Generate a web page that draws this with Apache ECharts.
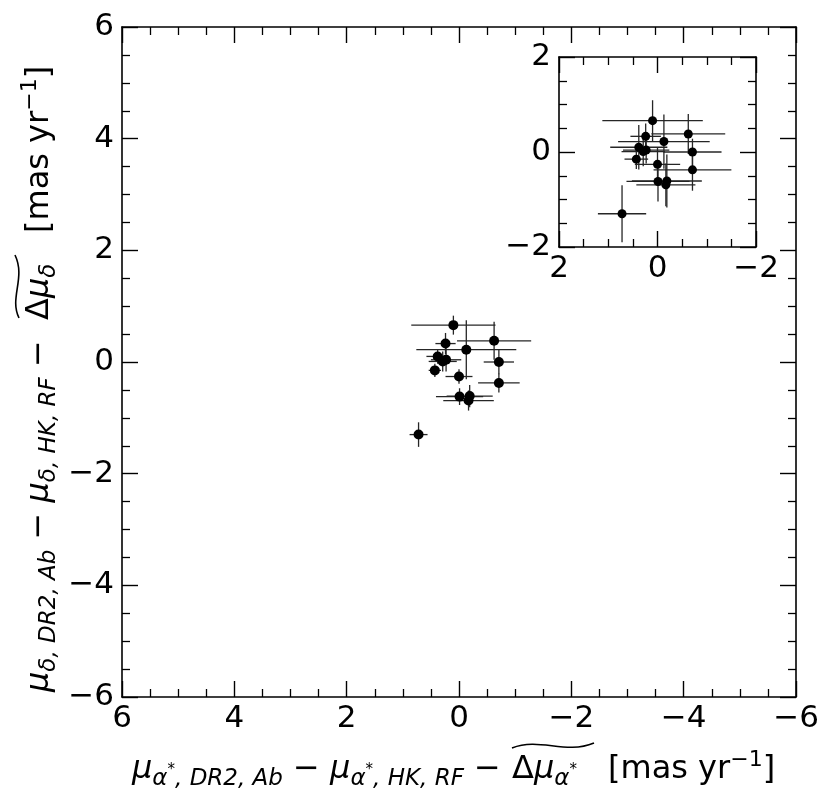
<!DOCTYPE html>
<html>
<head>
<meta charset="utf-8">
<script src="https://cdn.jsdelivr.net/npm/echarts@6/dist/echarts.min.js"></script>
<style>
  html, body { margin: 0; padding: 0; background: #fff; }
  #chart { width: 831px; height: 802px; }
</style>
</head>
<body>
<div id="chart"></div>
<script>
// proper motion differences (mas/yr)
var dRA  = [0.10, 0.24, -0.13, -0.625, 0.38, 0.23, 0.29, 0.43, -0.71, 0.00, -0.71, -0.01, -0.19, -0.17, 0.72];
var dDec = [0.66, 0.33, 0.22, 0.38, 0.10, 0.04, 0.01, -0.15, 0.00, -0.26, -0.375, -0.62, -0.61, -0.69, -1.30];

// error bars in the main panel
var errRA  = [0.75, 0.18, 0.89, 0.66, 0.20, 0.27, 0.25, 0.11, 0.27, 0.24, 0.37, 0.42, 0.41, 0.45, 0.16];
var errDec = [0.17, 0.19, 0.53, 0.34, 0.13, 0.21, 0.18, 0.12, 0.22, 0.13, 0.17, 0.15, 0.20, 0.18, 0.22];

// error bars drawn in the inset
var errRAInset  = [1.02, 0.31, 0.93, 0.75, 0.58, 0.47, 0.44, 0.24, 0.59, 0.46, 0.79, 0.64, 0.71, 0.60, 0.49];
var errDecInset = [0.43, 0.27, 0.57, 0.42, 0.47, 0.28, 0.31, 0.21, 0.28, 0.35, 0.44, 0.42, 0.56, 0.45, 0.60];

// axis ranges
var mainRange = [-6, 6];
var insetRange = [-2, 2];

var chart = echarts.init(document.getElementById('chart'));

var FONT = 'DejaVu Sans';

function tickFmt(v) {
    return v < 0 ? '\u2212' + (-v) : String(v);
}

// one axis; the mirrored ones (top / right) only carry ticks
function axis(grid, pos, range, showLabel, inverse, margin) {
    return {
        type: 'value',
        gridIndex: grid,
        position: pos,
        min: range[0],
        max: range[1],
        interval: 2,
        inverse: inverse,
        axisLine: { show: true, onZero: false, lineStyle: { color: '#000', width: 1.6 } },
        axisTick: { show: true, inside: true, length: 16, lineStyle: { color: '#000', width: 1.4 } },
        minorTick: { show: true, splitNumber: 4, length: 8, lineStyle: { color: '#000', width: 1.3 } },
        splitLine: { show: false },
        axisLabel: {
            show: showLabel,
            showMinLabel: true,
            showMaxLabel: true,
            margin: margin,
            color: '#000',
            fontSize: 31,
            fontFamily: FONT,
            formatter: tickFmt
        }
    };
}

function errBars(params, api) {
    var x = api.value(0), y = api.value(1), ex = api.value(2), ey = api.value(3);
    var l = api.coord([x - ex, y]), r = api.coord([x + ex, y]);
    var t = api.coord([x, y + ey]), b = api.coord([x, y - ey]);
    var style = { stroke: '#262626', lineWidth: 1.3 };
    return {
        type: 'group',
        children: [
            { type: 'line', shape: { x1: l[0], y1: l[1], x2: r[0], y2: r[1] }, style: style },
            { type: 'line', shape: { x1: t[0], y1: t[1], x2: b[0], y2: b[1] }, style: style }
        ]
    };
}

var points = dRA.map(function (v, i) { return [v, dDec[i]]; });
var mainErr = dRA.map(function (v, i) { return [v, dDec[i], errRA[i], errDec[i]]; });
var insetErr = dRA.map(function (v, i) { return [v, dDec[i], errRAInset[i], errDecInset[i]]; });

// rich text styles for the mathtext-like axis titles
var rich = {
    m: { fontSize: 32, fontStyle: 'italic', fontFamily: FONT, lineHeight: 42, fill: '#000' },
    n: { fontSize: 32, fontFamily: FONT, lineHeight: 42, fill: '#000' },
    s: { fontSize: 23, fontStyle: 'italic', fontFamily: FONT, lineHeight: 26, verticalAlign: 'bottom', fill: '#000' },
    a: { fontSize: 15, fontFamily: FONT, lineHeight: 16, verticalAlign: 'middle', fill: '#000' },
    p: { fontSize: 22, fontFamily: FONT, lineHeight: 12, verticalAlign: 'top', fill: '#000' }
};

function titleText(x, y, text, rot) {
    return {
        type: 'text',
        x: x,
        y: y,
        rotation: rot,
        silent: true,
        style: { text: text, rich: rich, align: 'left', verticalAlign: 'middle', fill: '#000', font: '32px "DejaVu Sans"' }
    };
}

var option = {
    animation: false,
    backgroundColor: '#fff',
    grid: [
        { left: 122, top: 27, width: 674, height: 670 },
        { left: 559, top: 57, width: 197, height: 190 }
    ],
    xAxis: [
        axis(0, 'bottom', mainRange, true, true, 6),
        axis(0, 'top', mainRange, false, true, 6),
        axis(1, 'bottom', insetRange, true, true, 6),
        axis(1, 'top', insetRange, false, true, 6)
    ],
    yAxis: [
        axis(0, 'left', mainRange, true, false, 8),
        axis(0, 'right', mainRange, false, false, 8),
        axis(1, 'left', insetRange, true, false, 8),
        axis(1, 'right', insetRange, false, false, 8)
    ],
    series: [
        { type: 'custom', xAxisIndex: 0, yAxisIndex: 0, renderItem: errBars, data: mainErr, encode: { x: 0, y: 1 }, z: 2 },
        { type: 'scatter', xAxisIndex: 0, yAxisIndex: 0, data: points, symbolSize: 10, itemStyle: { color: '#000', opacity: 1 }, z: 3 },
        { type: 'custom', xAxisIndex: 2, yAxisIndex: 2, renderItem: errBars, data: insetErr, encode: { x: 0, y: 1 }, z: 2 },
        { type: 'scatter', xAxisIndex: 2, yAxisIndex: 2, data: points, symbolSize: 9, itemStyle: { color: '#000', opacity: 1 }, z: 3 }
    ],
    graphic: [
        // x axis title
        titleText(132, 770, '{m|\u03bc}{s|\u03b1}{a|*}{s|, DR2, Ab}{n| \u2212 }{m|\u03bc}{s|\u03b1}{a|*}{s|, HK, RF}{n| \u2212}', 0),
        titleText(512, 770, '{n|\u0394}{m|\u03bc}{s|\u03b1}{a|*}', 0),
        titleText(608, 770, '{n|[mas yr}{p|\u22121}{n|]}', 0),
        {
            type: 'bezierCurve', silent: true,
            shape: { x1: 512, y1: 748, cpx1: 540, cpy1: 737, cpx2: 565, cpy2: 755, x2: 594, y2: 743 },
            style: { stroke: '#000', lineWidth: 1.6, fill: null }
        },
        // y axis title (rotated)
        titleText(40, 692, '{m|\u03bc}{s|\u03b4, DR2, Ab}{n| \u2212 }{m|\u03bc}{s|\u03b4, HK, RF}{n| \u2212}', Math.PI / 2),
        titleText(40, 320, '{n|\u0394}{m|\u03bc}{s|\u03b4}', Math.PI / 2),
        titleText(40, 233, '{n|[mas yr}{p|\u22121}{n|]}', Math.PI / 2),
        {
            type: 'bezierCurve', silent: true,
            shape: { x1: 19, y1: 318, cpx1: 9, cpy1: 298, cpx2: 26, cpy2: 278, x2: 15, y2: 255 },
            style: { stroke: '#000', lineWidth: 1.6, fill: null }
        }
    ]
};

chart.setOption(option);
</script>
</body>
</html>
